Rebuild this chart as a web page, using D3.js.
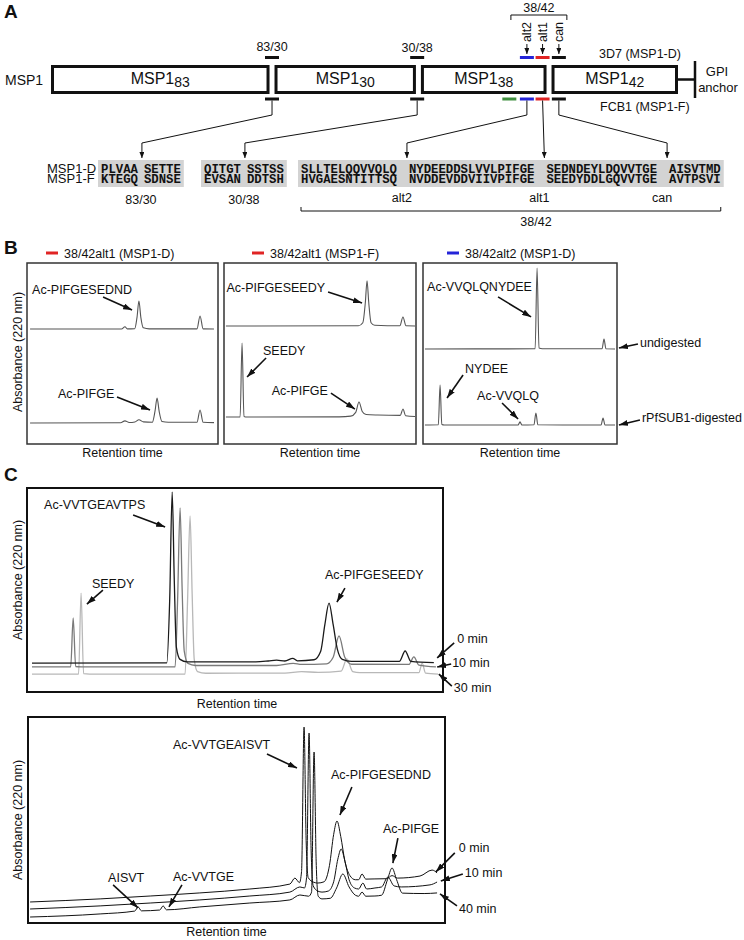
<!DOCTYPE html>
<html>
<head>
<meta charset="utf-8">
<script src="https://cdn.jsdelivr.net/npm/d3@7"></script>
<style>
  body { margin: 0; background: #fff; }
  text { font-family: "Liberation Sans", Arial, Helvetica, sans-serif; fill: #111; }
</style>
</head>
<body>
<svg id="fig" width="744" height="940"></svg>
<script>
// ---------- Panel A data ----------
const fragments = ['83', '30', '38', '42'];
const fragmentEdges = [0, 35.25, 58.6, 79.43, 100];          // along MSP1, arbitrary units
const siteNames = ['83/30', '30/38', 'extra', 'alt2', 'alt1', 'can'];
const sitePositions = [35.25, 58.4, 73.1, 75.9, 78.4, 81.0];
const sitesIn3D7 = [true, true, false, true, true, true];
const sitesInFCB1 = [true, true, true, true, true, true];
const seqBlockNames = ['83/30', '30/38', '38/42'];
const seqMSP1D = [['PLVAA', 'SETTE'], ['QITGT', 'SSTSS'], ['SLLTELQQVVQLQ', 'NYDEEDDSLVVLPIFGE', 'SEDNDEYLDQVVTGE', 'AISVTMD']];
const seqMSP1F = [['KTEGQ', 'SDNSE'], ['EVSAN', 'DDTSH'], ['HVGAESNTITTSQ', 'NVDDEVDDVIIVPIFGE', 'SEEDYDDLGQVVTGE', 'AVTPSVI']];
const cleavageLabels = ['alt2', 'alt1', 'can'];

// ---------- Panel B data: [retention, absorbance] (0-100 per panel) ----------
const b1Undigested = [[1.6,63.5],[49.5,63.5],[51.3,64.8],[52.5,63.6],[56.4,63.7],[57.6,70],[58.6,79],[59.6,70],[60.9,64.2],[64,63.6],[89,63.6],[90.6,70.7],[92.2,63.6],[97.9,63.5]];
const b1Digested = [[1.6,11.6],[49,11.7],[51.3,12.8],[53.5,11.9],[56.5,12.2],[58.6,13.4],[61,12.2],[65.6,12.0],[67,18],[68.1,25.4],[69.2,18],[70.7,12.4],[74,12.0],[89,12],[90.6,18.8],[92.2,12],[97.9,11.8]];
const b2Undigested = [[1,65.2],[70,65.3],[72.3,67],[73.6,78],[74.5,90.1],[75.4,78],[76.6,67],[78.5,65.6],[91.6,65.3],[93.2,70.2],[94.8,65.3],[99.5,65.2]];
const b2Digested = [[1,14.9],[8.4,15],[9.4,55.8],[10.4,15.2],[12,14.9],[60,15],[66,15.4],[68.6,17.5],[70.3,23.2],[72,18],[74,16.3],[80,16.0],[91.8,15.8],[93.2,19.3],[94.6,15.6],[99.5,15.2]];
const b3Undigested = [[1,52.5],[57.8,52.6],[58.8,97.2],[59.8,53],[61.5,52.6],[92.3,52.6],[93.3,58],[94.3,52.6],[99,52.5]];
const b3Digested = [[1,10.5],[7.9,10.6],[8.8,32.6],[9.7,10.8],[11,10.5],[49,10.5],[50,12.2],[51,10.5],[57.2,10.6],[58.2,17.1],[59.2,10.6],[91.8,10.5],[92.8,14.4],[93.8,10.5],[99,10.5]];

// ---------- Panel C data ----------
const c1Min0 = [[1.2,14.2],[33.6,14.3],[34.3,45],[34.9,98],[35.4,55],[35.9,22],[36.8,16],[38.5,14.8],[55,14.8],[58,15.2],[60,15.6],[62,15.2],[63.9,16.5],[65,15.3],[69,15.8],[70.6,20],[71.6,33],[72.6,43.6],[73.6,33],[74.6,21],[75.8,16],[78,15],[89.5,15],[90.9,20.1],[92.3,15],[97.8,14.4]];
const c1Min10 = [[1.2,12.3],[10.5,12.3],[11.1,36.3],[11.7,12.5],[13,12.3],[35.6,12.3],[36.2,45],[36.8,90.2],[37.3,50],[37.8,20],[38.7,14],[40.5,13],[60,13],[64,14],[66,13.5],[72,13.8],[73.6,17],[75,27.5],[76.4,17],[78,13.6],[91.8,13.5],[93,17.2],[94.2,13.2],[98.3,12.3]];
const c1Min30 = [[1.2,8.8],[12.4,8.8],[13,48.5],[13.6,9],[15,8.8],[38,8.8],[38.6,45],[39.2,86.3],[39.7,48],[40.2,16],[41,10],[43,9.2],[62,9.3],[66,10],[70,9.6],[75.5,10.2],[76.9,16.2],[78.3,10],[80,9.5],[94.2,9.5],[95,14.2],[95.8,9.3],[98.8,8.8]];
const c2Min0 = [[0.5,10.2],[17.3,11.7],[29.3,13.1],[41.2,14.6],[53.2,16.5],[62.8,18.9],[64,21.8],[65.1,19.6],[65.6,25],[66.2,95.1],[66.7,40],[67.2,22],[68.5,19.8],[69.5,19.4],[71,20],[72.3,28],[73.3,43],[74.1,49.5],[75,42],[76,30],[77.2,23],[78.5,21],[79.3,21],[80.1,23.8],[81,21.3],[83.2,21.4],[86,21.5],[87.3,23],[88.6,21.8],[94,22.8],[96.9,25.7],[98.1,24.3]];
const c2Min10 = [[0.5,6.8],[17.3,8.3],[29.3,9.7],[41.2,11.2],[53.2,13.1],[62.8,15],[65.2,17.5],[66.3,17],[66.8,22],[67.4,92.2],[67.9,35],[68.4,18],[69.5,15.5],[70.5,15],[72,15.5],[73.3,20],[74.3,31],[75.1,35.9],[76,30],[77,21],[78.3,17],[79.3,16.5],[80.3,19.4],[81.2,16.5],[83.2,17],[84.8,17.5],[86.3,22.3],[87.8,18],[89.5,17.5],[96.4,18.5],[98.1,19.9]];
const c2Min40 = [[0.5,2.9],[17.3,4.4],[25.6,5.8],[26.4,7.8],[27.2,5.9],[31.6,6.3],[32.4,8.3],[33.2,6.4],[41.2,7.8],[53.2,9.7],[62.8,11.2],[65.2,13.6],[67.3,13],[68,15],[68.6,83],[69.1,30],[69.6,13],[70.5,11.7],[72.5,12],[74,17],[75.5,23.8],[77,17.5],[78.5,13.5],[79.3,13],[80.1,15],[81,13],[83.2,13.1],[84.8,13.5],[86.2,21],[87.3,26.7],[88.4,21],[89.8,14.5],[95,14.3],[98.1,14.6]];

// ---------- drawing ----------
const svg = d3.select('#fig');
const MONO = '"Liberation Mono", "Courier New", monospace';
const siteColor = { '83/30': '#111', '30/38': '#111', extra: '#3f8f3f', alt2: '#2424d8', alt1: '#e02424', can: '#111' };

const defs = svg.append('defs');
function addMarker(id, len, wid) {
  defs.append('marker').attr('id', id)
    .attr('viewBox', `0 0 ${len} ${wid}`)
    .attr('refX', len).attr('refY', wid / 2)
    .attr('markerWidth', len).attr('markerHeight', wid)
    .attr('markerUnits', 'userSpaceOnUse').attr('orient', 'auto')
    .append('path').attr('d', `M0,0L${len},${wid / 2}L0,${wid}Z`).attr('fill', '#111');
}
addMarker('arrow', 9, 6);
addMarker('arrowSmall', 6, 5);

function label(x, y, s, size, anchor) {
  return svg.append('text').attr('x', x).attr('y', y)
    .attr('text-anchor', anchor || 'start')
    .style('font-size', (size || 12.5) + 'px').text(s);
}
function panelLetter(x, y, s) {
  label(x, y, s, 19).style('font-weight', 'bold');
}
function yLabel(x, y) {
  svg.append('text').attr('transform', `translate(${x},${y}) rotate(-90)`)
    .attr('text-anchor', 'middle').style('font-size', '12.5px').text('Absorbance (220 nm)');
}

// ===== Panel A =====
panelLetter(4, 18, 'A');
const xA = d3.scaleLinear().domain([0, 100]).range([51, 678]);
const boxY0 = 65, boxY1 = 94;
label(5, 85, 'MSP1', 14);
fragments.forEach((f, i) => {
  const L = xA(fragmentEdges[i]) + (i > 0 ? 2.5 : 0);
  const R = xA(fragmentEdges[i + 1]) - (i < fragments.length - 1 ? 2.5 : 0);
  svg.append('rect').attr('x', L + 1.5).attr('y', boxY0 + 1.5)
    .attr('width', R - L - 3).attr('height', boxY1 - boxY0 - 3)
    .attr('fill', '#fff').attr('stroke', '#111').attr('stroke-width', 3);
  const t = svg.append('text').attr('x', (L + R) / 2).attr('y', 84)
    .attr('text-anchor', 'middle').style('font-size', '16px');
  t.append('tspan').text('MSP1');
  t.append('tspan').attr('dy', 3).style('font-size', '14px').text(f);
});
// GPI anchor
svg.append('line').attr('x1', xA(100)).attr('x2', 695).attr('y1', 79.5).attr('y2', 79.5)
  .attr('stroke', '#111').attr('stroke-width', 2.5);
svg.append('line').attr('x1', 695).attr('x2', 695).attr('y1', 61).attr('y2', 98)
  .attr('stroke', '#111').attr('stroke-width', 2.5);
label(717, 76, 'GPI', 13, 'middle');
label(718, 92, 'anchor', 13, 'middle');
label(599, 58, '3D7 (MSP1-D)', 12.5);
label(600, 111, 'FCB1 (MSP1-F)', 12.5);

// site bars
const barTop = 57.5, barBot = 99;
siteNames.forEach((s, i) => {
  const cx = xA(sitePositions[i]);
  [[sitesIn3D7[i], barTop], [sitesInFCB1[i], barBot]].forEach(([on, y]) => {
    if (!on) return;
    svg.append('line').attr('x1', cx - 7).attr('x2', cx + 7).attr('y1', y).attr('y2', y)
      .attr('stroke', siteColor[s]).attr('stroke-width', 3);
  });
});
label(xA(sitePositions[0]), 51, '83/30', 12.5, 'middle');
label(xA(sitePositions[1]), 52, '30/38', 12.5, 'middle');
cleavageLabels.forEach(c => {
  const cx = xA(sitePositions[siteNames.indexOf(c)]);
  svg.append('text').attr('transform', `translate(${cx + 4.5},32) rotate(-90)`)
    .attr('text-anchor', 'middle').style('font-size', '12.5px').text(c);
  svg.append('line').attr('x1', cx).attr('x2', cx).attr('y1', 44).attr('y2', 54)
    .attr('stroke', '#111').attr('stroke-width', 1).attr('marker-end', 'url(#arrowSmall)');
});
{
  const bx0 = xA(sitePositions[siteNames.indexOf('alt2')]) - 16;
  const bx1 = xA(sitePositions[siteNames.indexOf('can')]) + 8;
  svg.append('path').attr('d', `M${bx0},20V15H${bx1}V20`).attr('fill', 'none')
    .attr('stroke', '#111').attr('stroke-width', 1);
  label((bx0 + bx1) / 2, 12, '38/42', 12.5, 'middle');
}

// sequences
label(47, 173, 'MSP1-D', 13);
label(47, 183, 'MSP1-F', 13);
const blockStart = [101, 204, 301];
const chunkGap = [6, 6, 12];
const chunkStarts = [];
seqBlockNames.forEach((name, b) => {
  const bg = svg.append('rect').attr('fill', '#d3d3d3');
  let x = blockStart[b];
  const starts = [];
  seqMSP1D[b].forEach((chunk, k) => {
    starts.push(x);
    const t1 = svg.append('text').attr('x', x).attr('y', 173)
      .style('font-family', MONO).style('font-weight', 'bold').style('font-size', '12.3px').text(chunk);
    svg.append('text').attr('x', x).attr('y', 183)
      .style('font-family', MONO).style('font-weight', 'bold').style('font-size', '12.3px').text(seqMSP1F[b][k]);
    x += t1.node().getComputedTextLength() + chunkGap[b];
  });
  const end = x - chunkGap[b];
  bg.attr('x', blockStart[b] - 3).attr('y', 160).attr('width', end - blockStart[b] + 6).attr('height', 27);
  chunkStarts.push(starts);
  if (b < 2) label((blockStart[b] + end) / 2, 204, name, 12.5, 'middle');
  else {
    svg.append('path').attr('d', `M${blockStart[b]},207V211H${end}V207`).attr('fill', 'none')
      .attr('stroke', '#111').attr('stroke-width', 1);
    label(536, 226, name, 12.5, 'middle');
  }
});
// connectors from FCB1 bars down to the sequence cleavage points
const connectors = [
  ['83/30', chunkStarts[0][1]], ['30/38', chunkStarts[1][1]],
  ['alt2', chunkStarts[2][1]], ['alt1', chunkStarts[2][2]], ['can', chunkStarts[2][3]]
];
connectors.forEach(([s, tx]) => {
  const bx = xA(sitePositions[siteNames.indexOf(s)]);
  const tipX = tx - 2;
  const d = s === 'alt1' ? `M${bx},100.5L${tipX},158`
    : `M${bx},100.5V115L${tipX},143V158`;
  svg.append('path').attr('d', d).attr('fill', 'none').attr('stroke', '#111')
    .attr('stroke-width', 1).attr('marker-end', 'url(#arrowSmall)');
});
cleavageLabels.forEach((c, k) => label(chunkStarts[2][k + 1] - 7, 202, c, 12.5, 'middle'));

// ===== chromatogram helper =====
function chromPanel(cfg) {
  const x = d3.scaleLinear().domain([0, 100]).range([cfg.x0, cfg.x1]);
  const y = d3.scaleLinear().domain([0, 100]).range([cfg.y1, cfg.y0]);
  const line = d3.line().x(d => x(d[0])).y(d => y(d[1])).curve(d3.curveMonotoneX);
  cfg.traces.forEach((tr, i) => {
    svg.append('path').datum(tr).attr('d', line).attr('fill', 'none')
      .attr('stroke', cfg.colors[i]).attr('stroke-width', cfg.lw).attr('stroke-linejoin', 'round');
  });
  svg.append('rect').attr('x', cfg.x0).attr('y', cfg.y0)
    .attr('width', cfg.x1 - cfg.x0).attr('height', cfg.y1 - cfg.y0)
    .attr('fill', 'none').attr('stroke', cfg.frame).attr('stroke-width', cfg.fw);
  cfg.notes.forEach(n => {
    const tx = x(n.t), ty = y(n.a);
    svg.append('line').attr('x1', tx + n.tail[0]).attr('y1', ty + n.tail[1])
      .attr('x2', tx).attr('y2', ty).attr('stroke', '#111').attr('stroke-width', 1.6)
      .attr('marker-end', 'url(#arrow)');
    label(tx + n.lab[0], ty + n.lab[1], n.text, 12.5, n.anchor || 'start');
  });
  label((cfg.x0 + cfg.x1) / 2 + (cfg.rtShift || 0), cfg.rtY, 'Retention time', 12.5, 'middle');
}

// ===== Panel B =====
panelLetter(4, 254, 'B');
const bY0 = 263, bY1 = 444;
const bLegends = [['38/42alt1 (MSP1-D)', 'alt1', 46], ['38/42alt1 (MSP1-F)', 'alt1', 252], ['38/42alt2 (MSP1-D)', 'alt2', 447]];
bLegends.forEach(([t, s, lx]) => {
  svg.append('line').attr('x1', lx).attr('x2', lx + 12).attr('y1', 253).attr('y2', 253)
    .attr('stroke', siteColor[s]).attr('stroke-width', 3);
  label(lx + 18, 258, t, 12.5);
});
yLabel(22, 352);
const bStyle = { y0: bY0, y1: bY1, colors: ['#555', '#555'], lw: 1.1, frame: '#333', fw: 1.5, rtY: 457 };
chromPanel(Object.assign({}, bStyle, {
  x0: 27, x1: 218, traces: [b1Undigested, b1Digested],
  notes: [
    { text: 'Ac-PIFGESEDND', t: 55, a: 74, tail: [-29, -13], lab: [-100, -16.5] },
    { text: 'Ac-PIFGE', t: 64.4, a: 18.8, tail: [-33, -13], lab: [-92, -11.5] }
  ]
}));
chromPanel(Object.assign({}, bStyle, {
  x0: 224, x1: 416, traces: [b2Undigested, b2Digested],
  notes: [
    { text: 'Ac-PIFGESEEDY', t: 71.9, a: 77.9, tail: [-34, -11], lab: [-37, -11.5], anchor: 'end' },
    { text: 'SEEDY', t: 12, a: 37, tail: [19, -19], lab: [16, -22.5] },
    { text: 'Ac-PIFGE', t: 68.2, a: 19.3, tail: [-24, -16], lab: [-27, -14.5], anchor: 'end' }
  ]
}));
chromPanel(Object.assign({}, bStyle, {
  x0: 423, x1: 617, traces: [b3Undigested, b3Digested],
  notes: [
    { text: 'Ac-VVQLQNYDEE', t: 55.7, a: 70.2, tail: [-33, -20], lab: [-104, -25.5] },
    { text: 'NYDEE', t: 12.4, a: 25.4, tail: [16, -23], lab: [18, -25.5] },
    { text: 'Ac-VVQLQ', t: 49, a: 13.8, tail: [-16, -16], lab: [-41, -19.5] },
    { text: 'undigested', t: 101, a: 53, tail: [19, -4], lab: [21, -1.5] },
    { text: 'rPfSUB1-digested', t: 101, a: 10.5, tail: [21, -5], lab: [23, -2.5] }
  ]
}));

// ===== Panel C =====
panelLetter(4, 481, 'C');
yLabel(22, 580);
chromPanel({
  x0: 27, x1: 443, y0: 488, y1: 692, traces: [c1Min30, c1Min10, c1Min0],
  colors: ['#b8b8b8', '#7a7a7a', '#1a1a1a'], lw: 1.3, frame: '#111', fw: 2, rtY: 708, rtShift: 2,
  notes: [
    { text: 'Ac-VVTGEAVTPS', t: 33.2, a: 80.9, tail: [-32, -12], lab: [-121, -17.5] },
    { text: 'SEEDY', t: 14.4, a: 43.1, tail: [16, -14], lab: [5, -16.5] },
    { text: 'Ac-PIFGESEEDY', t: 74.5, a: 44.1, tail: [8, -14], lab: [-12, -23.5] },
    { text: '0 min', t: 98.6, a: 16.7, tail: [17, -15], lab: [20, -14.5] },
    { text: '10 min', t: 98.6, a: 12.3, tail: [14, -3], lab: [15, 0.5] },
    { text: '30 min', t: 99, a: 8.8, tail: [13, 12], lab: [15, 17.5] }
  ]
});
yLabel(22, 820);
chromPanel({
  x0: 28, x1: 445, y0: 717, y1: 923, traces: [c2Min40, c2Min10, c2Min0],
  colors: ['#111', '#111', '#111'], lw: 1, frame: '#111', fw: 2, rtY: 936, rtShift: -10,
  notes: [
    { text: 'AISVT', t: 26.4, a: 7.3, tail: [-25, -23], lab: [-30, -25.5] },
    { text: 'Ac-VVTGE', t: 33.8, a: 7.8, tail: [13, -22], lab: [4, -25.5] },
    { text: 'Ac-VVTGEAISVT', t: 64.5, a: 75.2, tail: [-30, -14], lab: [-124, -19.5] },
    { text: 'Ac-PIFGESEDND', t: 74.8, a: 52.4, tail: [12, -28], lab: [-9, -36.5] },
    { text: 'Ac-PIFGE', t: 87.5, a: 29.1, tail: [5, -25], lab: [-10, -30.5] },
    { text: '0 min', t: 97.8, a: 24.8, tail: [19, -19], lab: [23, -19.5] },
    { text: '10 min', t: 99, a: 20.4, tail: [22, -7], lab: [24, -3.5] },
    { text: '40 min', t: 98.8, a: 14.1, tail: [17, 12], lab: [19, 19.5] }
  ]
});
</script>
</body>
</html>
